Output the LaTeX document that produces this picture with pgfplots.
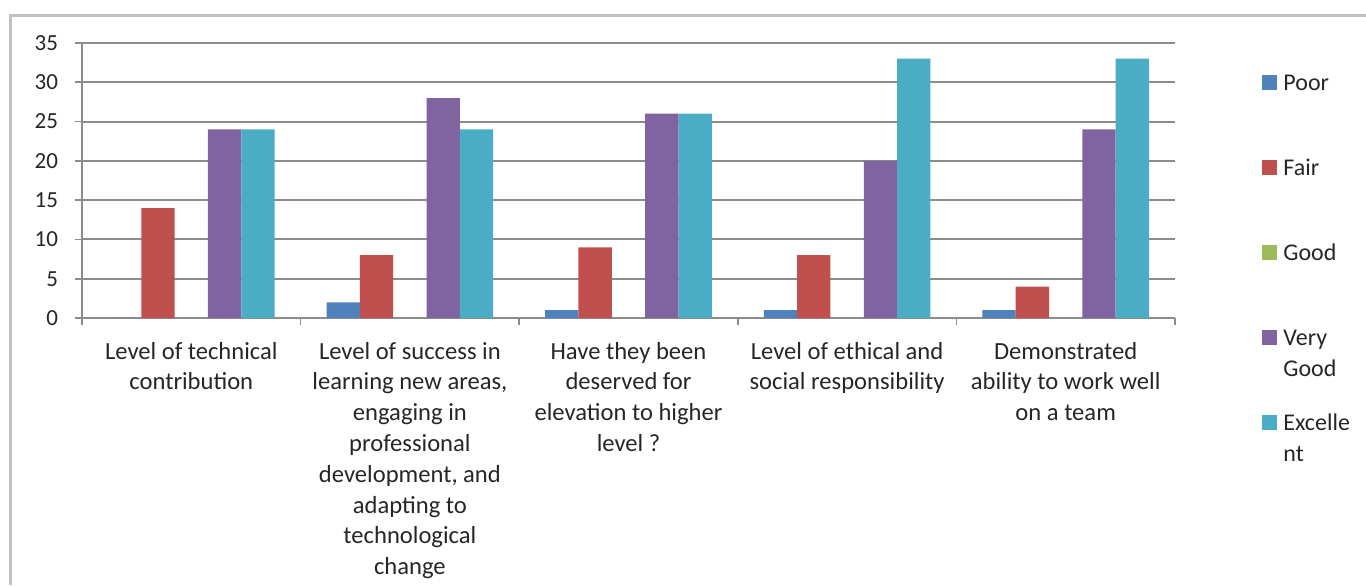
\documentclass[border=0pt]{standalone}
\usepackage{fontspec}
\setmainfont{Carlito}
\usepackage{pgfplots}
\pgfplotsset{compat=1.18}
\definecolor{poor}{HTML}{4F81BD}
\definecolor{fair}{HTML}{C0504D}
\definecolor{good}{HTML}{9BBB59}
\definecolor{vgood}{HTML}{8064A2}
\definecolor{excel}{HTML}{4BACC6}
\definecolor{gridgray}{HTML}{8C8C8C}
\definecolor{framegray}{HTML}{BFBFBF}
\definecolor{txt}{HTML}{262626}

\begin{document}
\begin{tikzpicture}
\begin{axis}[
    at={(0pt,0pt)}, anchor=south west,
    scale only axis,
    width=546.5pt, height=137.5pt,
    ybar, bar width=0.1525,
    xmin=-0.5, xmax=4.5, ymin=0, ymax=35,
    ytick={0,5,...,35},
    xtick={-0.5,0.5,...,4.5}, xticklabels={},
    extra x ticks={0,1,2,3,4},
    extra x tick labels={
        Level of technical\\contribution,
        Level of success in\\learning new areas{,}\\engaging in\\professional\\development{,} and\\adapting to\\technological\\change,
        Have they been\\deserved for\\elevation to higher\\level ?,
        Level of ethical and\\social responsibility,
        Demonstrated\\ability to work well\\on a team},
    extra x tick style={major tick length=0pt},
    axis lines*=left,
    tick align=outside, major tick length=3.5pt,
    ymajorgrids, grid style={gridgray, line width=1pt},
    axis line style={gridgray, line width=1pt},
    tick style={gridgray, line width=0.8pt},
    /pgf/number format/assume math mode=true,
    yticklabel style={font=\fontsize{11.5}{14}\selectfont, text=txt, xshift=-5pt},
    xticklabel style={font=\fontsize{12.3}{15.4}\selectfont, text=txt, align=center, yshift=-8.5pt},
    legend style={draw=none, fill=none, at={(1.0796,0.909)}, anchor=north west,
        inner sep=0pt, row sep=11.5pt,
        nodes={inner sep=0pt, text depth=, font=\fontsize{12}{15.5}\selectfont, text=txt, align=left}},
    legend cell align=left,
    legend image code/.code={
        \path[draw=none, fill=none] (0pt,-12.3pt) (10.5pt,12.3pt);
        \fill[#1] (0pt,4.8pt) rectangle (7.5pt,12.3pt);},
]
\addplot[fill=poor, draw=none, bar shift=-0.305] coordinates {(0,0) (1,2) (2,1) (3,1) (4,1)};
\addlegendentry{Poor\strut\\\strut}
\addplot[fill=fair, draw=none, bar shift=-0.1525] coordinates {(0,14) (1,8) (2,9) (3,8) (4,4)};
\addlegendentry{Fair\strut\\\strut}
\addplot[fill=good, draw=none, bar shift=0] coordinates {(0,0) (1,0) (2,0) (3,0) (4,0)};
\addlegendentry{Good\strut\\\strut}
\addplot[fill=vgood, draw=none, bar shift=0.1525] coordinates {(0,24) (1,28) (2,26) (3,20) (4,24)};
\addlegendentry{Very\strut\\Good\strut}
\addplot[fill=excel, draw=none, bar shift=0.305] coordinates {(0,24) (1,24) (2,26) (3,33) (4,33)};
\addlegendentry{Excelle\strut\\nt\strut}
\end{axis}
\draw[framegray, line width=1.5pt] (-35.5pt,-133.5pt) -- (-35.5pt,151.5pt) -- (642pt,151.5pt);
\pgfresetboundingbox
\useasboundingbox (-41pt,-133.5pt) rectangle (642pt,159pt);
\end{tikzpicture}
\end{document}
